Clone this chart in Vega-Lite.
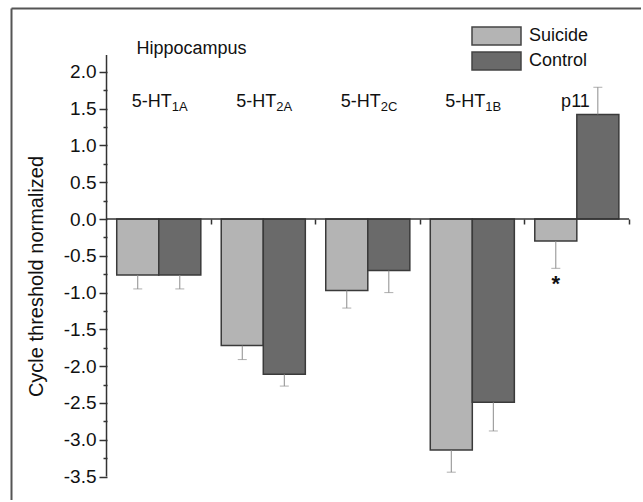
{
  "$schema": "https://vega.github.io/schema/vega-lite/v6.json",
  "width": 630,
  "height": 492,
  "padding": {"left": 11, "top": 8, "right": 0, "bottom": 0},
  "background": "white",
  "config": {"view": {"stroke": null}, "font": "Liberation Sans"},
  "datasets": {
    "bars": [
      {"gene": "5-HT1A", "group": "Suicide", "value": -0.76, "errEnd": -0.95, "sig": ""},
      {"gene": "5-HT1A", "group": "Control", "value": -0.76, "errEnd": -0.95, "sig": ""},
      {"gene": "5-HT2A", "group": "Suicide", "value": -1.72, "errEnd": -1.91, "sig": ""},
      {"gene": "5-HT2A", "group": "Control", "value": -2.11, "errEnd": -2.27, "sig": ""},
      {"gene": "5-HT2C", "group": "Suicide", "value": -0.97, "errEnd": -1.21, "sig": ""},
      {"gene": "5-HT2C", "group": "Control", "value": -0.70, "errEnd": -1.00, "sig": ""},
      {"gene": "5-HT1B", "group": "Suicide", "value": -3.14, "errEnd": -3.44, "sig": ""},
      {"gene": "5-HT1B", "group": "Control", "value": -2.49, "errEnd": -2.88, "sig": ""},
      {"gene": "p11", "group": "Suicide", "value": -0.30, "errEnd": -0.67, "sig": "*"},
      {"gene": "p11", "group": "Control", "value": 1.42, "errEnd": 1.79, "sig": ""}
    ],
    "labels": [
      {"gene": "5-HT1A", "main": "5-HT", "sub": "1A"},
      {"gene": "5-HT2A", "main": "5-HT", "sub": "2A"},
      {"gene": "5-HT2C", "main": "5-HT", "sub": "2C"},
      {"gene": "5-HT1B", "main": "5-HT", "sub": "1B"},
      {"gene": "p11", "main": "p11", "sub": ""}
    ]
  },
  "layer": [
    {
      "data": {"name": "bars"},
      "mark": {"type": "bar", "stroke": "#3a3a3a", "strokeWidth": 1.5},
      "encoding": {
        "x": {
          "field": "gene", "type": "nominal",
          "scale": {"domain": ["5-HT1A", "5-HT2A", "5-HT2C", "5-HT1B", "p11"], "paddingInner": 0, "paddingOuter": 0.514, "align": 0.889},
          "axis": {"orient": "top", "domain": true, "domainColor": "#555555", "domainWidth": 2, "ticks": false, "labels": false, "title": null, "grid": false}
        },
        "xOffset": {
          "field": "group", "type": "nominal",
          "scale": {"domain": ["Suicide", "Control"], "paddingInner": 0, "paddingOuter": 0.243}
        },
        "y": {
          "field": "value", "type": "quantitative",
          "scale": {"domain": [-3.818, 2.867], "nice": false, "zero": false},
          "axis": {"orient": "left", "domain": true, "domainColor": "#555555", "domainWidth": 2, "ticks": false, "labels": false, "title": null, "grid": false}
        },
        "fill": {
          "field": "group", "type": "nominal",
          "scale": {"domain": ["Suicide", "Control"], "range": ["#b4b4b4", "#6a6a6a"]},
          "legend": {
            "title": null, "orient": "none", "legendX": 460, "legendY": 18,
            "symbolType": "M-1,-0.367H1V0.367H-1Z", "symbolSize": 2401,
            "symbolStrokeColor": "#444444", "symbolStrokeWidth": 1.5, "symbolOpacity": 1,
            "labelFontSize": 18, "labelFont": "Liberation Sans", "labelColor": "#111111",
            "labelOffset": 7, "rowPadding": 5, "clipHeight": 20, "padding": 0
          }
        }
      }
    },
    {
      "data": {"name": "bars"},
      "mark": {"type": "rule", "color": "#8c8c8c", "strokeWidth": 1},
      "encoding": {
        "x": {
          "field": "gene", "type": "nominal",
          "axis": {"orient": "bottom", "offset": -281, "domain": false, "ticks": true, "tickSize": 5, "tickColor": "#333333", "tickWidth": 1.5, "bandPosition": 1, "labels": false, "title": null, "grid": false}
        },
        "xOffset": {"field": "group", "type": "nominal"},
        "y": {
          "field": "value", "type": "quantitative",
          "axis": {
            "orient": "left", "offset": -96, "domain": false,
            "values": [-3.5, -3.0, -2.5, -2.0, -1.5, -1.0, -0.5, 0.0, 0.5, 1.0, 1.5, 2.0],
            "tickSize": 8, "tickColor": "#333333", "tickWidth": 1.5,
            "labelExpr": "replace(format(datum.value, '.1f'), '\u2212', '-')",
            "labelFontSize": 19, "labelFont": "Liberation Sans", "labelColor": "#111111", "labelPadding": 3,
            "title": "Cycle threshold normalized", "titleFontSize": 20, "titleFont": "Liberation Sans",
            "titleFontWeight": "normal", "titleColor": "#111111",
            "titleX": -71, "titleY": 268, "titleAngle": -90, "titleAlign": "center", "titleBaseline": "middle",
            "grid": false
          }
        },
        "y2": {"field": "errEnd"}
      }
    },
    {
      "data": {"name": "bars"},
      "mark": {"type": "tick", "color": "#8c8c8c", "thickness": 1, "size": 9},
      "encoding": {
        "x": {"field": "gene", "type": "nominal", "axis": null},
        "xOffset": {"field": "group", "type": "nominal"},
        "y": {
          "field": "errEnd", "type": "quantitative",
          "axis": {
            "orient": "left", "offset": -96, "domain": false,
            "values": [-3.25, -2.75, -2.25, -1.75, -1.25, -0.75, -0.25, 0.25, 0.75, 1.25, 1.75],
            "tickSize": 4, "tickColor": "#333333", "tickWidth": 1.5, "labels": false, "title": null, "grid": false
          }
        }
      }
    },
    {
      "data": {"values": [{}]},
      "mark": {"type": "rule", "color": "#333333", "strokeWidth": 1.5},
      "encoding": {
        "x": {"datum": "5-HT1A", "bandPosition": 0, "axis": null},
        "x2": {"datum": "p11", "bandPosition": 1},
        "y": {"datum": 0, "axis": null}
      }
    },
    {
      "data": {"values": [{}]},
      "mark": {"type": "rule", "color": "#333333", "strokeWidth": 1.5},
      "encoding": {
        "x": {"datum": "5-HT1A", "bandPosition": 0, "axis": null},
        "y": {"datum": -3.5, "axis": null},
        "y2": {"datum": 2.228}
      }
    },
    {
      "data": {"name": "bars"},
      "transform": [{"filter": "datum.sig == '*'"}],
      "mark": {"type": "text", "fontSize": 22, "fontWeight": "bold", "baseline": "top", "dy": 6, "color": "#111111", "font": "Liberation Sans"},
      "encoding": {
        "x": {"field": "gene", "type": "nominal", "axis": null},
        "xOffset": {"field": "group", "type": "nominal"},
        "y": {"field": "errEnd", "type": "quantitative", "axis": null},
        "text": {"field": "sig"}
      }
    },
    {
      "data": {"name": "labels"},
      "mark": {"type": "text", "fontSize": 18, "align": "right", "baseline": "alphabetic", "dx": 13, "color": "#111111", "font": "Liberation Sans"},
      "encoding": {
        "x": {"field": "gene", "type": "nominal", "axis": null},
        "y": {"datum": 1.52, "axis": null},
        "text": {"field": "main"}
      }
    },
    {
      "data": {"name": "labels"},
      "mark": {"type": "text", "fontSize": 13, "align": "left", "baseline": "alphabetic", "dx": 13, "dy": 4, "color": "#111111", "font": "Liberation Sans"},
      "encoding": {
        "x": {"field": "gene", "type": "nominal", "axis": null},
        "y": {"datum": 1.52, "axis": null},
        "text": {"field": "sub"}
      }
    },
    {
      "data": {"values": [{"label": "Hippocampus"}]},
      "mark": {"type": "text", "fontSize": 18, "align": "left", "baseline": "alphabetic", "dx": 30, "color": "#111111", "font": "Liberation Sans"},
      "encoding": {
        "x": {"datum": "5-HT1A", "bandPosition": 0, "axis": null},
        "y": {"datum": 2.24, "axis": null},
        "text": {"field": "label"}
      }
    }
  ],
  "resolve": {"axis": {"x": "independent", "y": "independent"}}
}
